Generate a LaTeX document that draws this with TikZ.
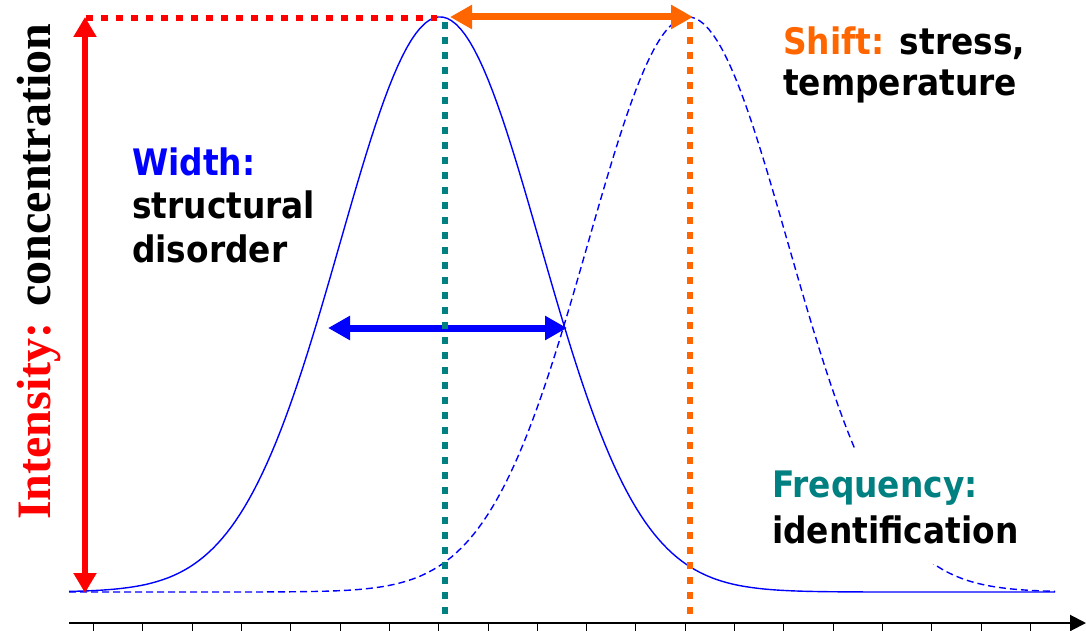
\documentclass[tikz,border=0pt]{standalone}
\usepackage{fontspec}
\setmainfont{Liberation Serif}
\newfontfamily\lbl[FakeStretch=0.9]{DejaVu Sans}
\usetikzlibrary{arrows.meta}
\definecolor{myred}{RGB}{255,0,0}
\definecolor{myorange}{RGB}{255,102,0}
\definecolor{myteal}{RGB}{0,128,128}
\definecolor{myblue}{RGB}{0,0,255}
\begin{document}
\begin{tikzpicture}[x=1pt,y=-1pt,
  lab/.style={font=\lbl\bfseries\fontsize{36.5}{43}\selectfont, align=left, inner sep=0pt, anchor=base west},
  guide/.style={line width=6pt, dash pattern=on 7pt off 8pt},
  dbl/.style={line width=7pt, {Triangle[length=22pt,width=23pt]}-{Triangle[length=22pt,width=23pt]}},
  curve/.style={myblue, line width=1.4pt},
  tick/.style={line width=0.8pt}]
\fill[white] (0,0) rectangle (1086,631);
\useasboundingbox (0,0) rectangle (1086,631);

% curves
\draw[curve] plot[domain=69:1055, samples=220] (\x, {592-575*exp(-0.5*((\x-440)/100)^2)});
\draw[curve, dash pattern=on 7pt off 4pt] plot[domain=69:1055, samples=220] (\x, {592-575*exp(-0.5*((\x-688)/100)^2)});

% coordinates
\coordinate (redtop) at (85,17);
\coordinate (redbot) at (85,593);
\coordinate (dotL) at (86,18);
\coordinate (dotR) at (437,18);
\coordinate (shiftL) at (450,17);
\coordinate (shiftR) at (693,17);
\coordinate (widL) at (328,328);
\coordinate (widR) at (567,328);
\coordinate (tealtop) at (445,22);
\coordinate (tealbot) at (445,622);
\coordinate (orgtop) at (690,22);
\coordinate (orgbot) at (690,622);
\coordinate (axstart) at (69,623);
\coordinate (axend) at (1086,623);

% width arrow
\draw[dbl, myblue] (widL) -- (widR);

% guides
\draw[guide, myteal] (tealtop) -- (tealbot);
\draw[guide, myorange] (orgtop) -- (orgbot);
\draw[guide, myred] (dotL) -- (dotR);

% intensity and shift arrows
\draw[myred, line width=6.5pt, {Triangle[length=20pt,width=22pt]}-{Triangle[length=20pt,width=22pt]}] (redtop) -- (redbot);
\draw[dbl, myorange] (shiftL) -- (shiftR);

% axis
\draw[line width=2pt, -{Triangle[length=16pt,width=16pt]}] (axstart) -- (axend);
\foreach \i in {0,...,19} \draw[tick] ({93.5+49.3*\i},623) -- ++(0,8);

% labels
\node[rotate=90, anchor=base west, inner sep=0pt, font=\bfseries\fontsize{48}{48}\selectfont] (inten) at (50,520) {\textcolor{myred}{Intensity:} concentration};
\node[lab, font=\lbl\bfseries\fontsize{36.5}{41}\selectfont] (shift) at (783,96) {\textcolor{myorange}{Shift:} stress,\\temperature};
\node[lab, font=\lbl\bfseries\fontsize{36.5}{43.5}\selectfont] (width) at (132,262) {\textcolor{myblue}{Width:}\\structural\\disorder};
\node[lab, font=\lbl\bfseries\fontsize{36.5}{46}\selectfont, fill=white, inner xsep=4pt, inner ysep=20pt] (freq) at (768,543) {\textcolor{myteal}{Frequency:}\\identification};
\end{tikzpicture}
\end{document}
